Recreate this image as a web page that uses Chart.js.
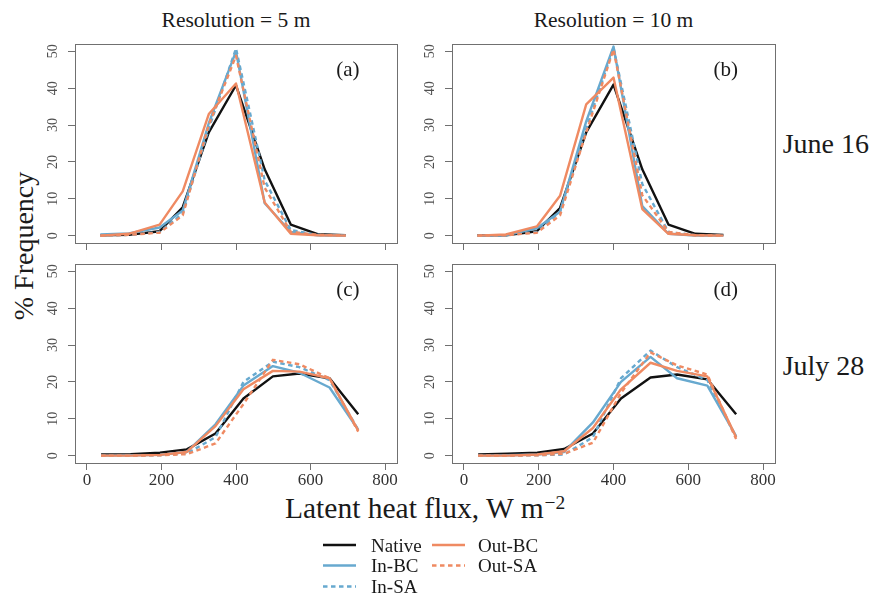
<!DOCTYPE html>
<html><head><meta charset="utf-8">
<script src="https://cdn.jsdelivr.net/npm/chart.js@4.4.1/dist/chart.umd.min.js"></script>
<style>
html,body{margin:0;padding:0;background:#fff;}
body{width:874px;height:596px;position:relative;overflow:hidden;font-family:"Liberation Serif",serif;color:#1a1a1a;}
canvas.pc{position:absolute;}
.t{position:absolute;white-space:nowrap;line-height:1;}
</style></head><body>

<div class="t" style="left:86px;width:300px;text-align:center;top:10.3px;font-size:21.5px;">Resolution = 5 m</div>
<div class="t" style="left:463.5px;width:300px;text-align:center;top:10.3px;font-size:21.5px;">Resolution = 10 m</div>
<div class="t" style="left:782.7px;top:129.9px;font-size:28px;">June 16</div>
<div class="t" style="left:782.7px;top:351.5px;font-size:28px;">July 28</div>
<div class="t" style="left:24px;top:246px;font-size:28px;transform:translate(-50%,-50%) rotate(-90deg);">% Frequency</div>
<div class="t" style="left:285px;top:493.6px;font-size:29.5px;">Latent heat flux, W m<span style="position:relative;top:-0.45em;font-size:0.66em;margin-left:1px;">−2</span></div>

<canvas class="pc" id="pa" width="372" height="219" style="left:35px;top:34px;width:372px;height:219px;"></canvas>
<canvas class="pc" id="pb" width="373" height="219" style="left:412px;top:34px;width:373px;height:219px;"></canvas>
<canvas class="pc" id="pcc" width="372" height="239" style="left:35px;top:254px;width:372px;height:239px;"></canvas>
<canvas class="pc" id="pd" width="373" height="239" style="left:412px;top:254px;width:373px;height:239px;"></canvas>

<div id="labels"></div>
<div id="legend"></div>

<script>
// ---------- data ----------
const seriesNames = ['Native', 'In-BC', 'In-SA', 'Out-BC', 'Out-SA'];
const panelTags = ['(a)', '(b)', '(c)', '(d)'];
const xTicks = [0, 200, 400, 600, 800];
const yTicks = [0, 10, 20, 30, 40, 50];

// bin centres (latent heat flux, W m-2)
const fluxJune = [36, 112, 195, 257, 327, 400, 477, 547, 619, 694];
const fluxJuly = [38, 117, 196, 268, 345, 420, 499, 570, 651, 728];

// (a) June 16, 5 m
const aNative = [0.1, 0.2, 1.2, 7.7, 28, 40.8, 18, 3, 0.4, 0.1];
const aInBC   = [0.3, 0.6, 2.2, 6.8, 30.5, 50, 8.8, 1, 0.1, 0];
const aInSA   = [0, 0.2, 1, 6, 29, 50.8, 15, 1.5, 0.2, 0];
const aOutBC  = [0, 0.5, 3, 12, 33, 41.3, 9, 0.5, 0.1, 0];
const aOutSA  = [0, 0.2, 0.8, 5.5, 30, 48.8, 13, 1, 0.2, 0];

// (b) June 16, 10 m
const bNative = [0.1, 0.1, 1.2, 7.5, 28, 41, 18, 3, 0.5, 0.2];
const bInBC   = [0, 0.1, 2, 6.5, 31, 51.3, 8, 0.5, 0, 0];
const bInSA   = [0, 0.1, 1, 6.5, 29, 51, 14, 1, 0.1, 0];
const bOutBC  = [0, 0.3, 2.5, 10.8, 35.6, 42.9, 7.2, 0.5, 0.1, 0];
const bOutSA  = [0, 0.1, 0.8, 5.5, 28, 50.5, 11, 1, 0.1, 0];

// (c) July 28, 5 m
const cNative = [0.3, 0.4, 0.8, 1.7, 6, 15.5, 21.5, 22.3, 21, 11.2];
const cInBC   = [0, 0.1, 0.2, 1, 8.5, 19, 24.3, 22.5, 18.5, 7];
const cInSA   = [0, 0, 0.1, 0.6, 5, 20, 25.5, 24, 20.5, 7];
const cOutBC  = [0, 0, 0.2, 1, 8, 18, 23, 22.8, 21, 6.8];
const cOutSA  = [0, 0, 0.1, 0.4, 3.3, 14, 26, 24.8, 21, 6.5];

// (d) July 28, 10 m
const dNative = [0.3, 0.5, 0.8, 1.8, 6, 15.5, 21.2, 22, 20.7, 11.2];
const dInBC   = [0, 0.1, 0.3, 1, 9, 20, 26.8, 21, 19, 5.3];
const dInSA   = [0, 0, 0.1, 0.3, 5, 21, 28.5, 24, 20.5, 5];
const dOutBC  = [0, 0, 0.3, 1.2, 7.5, 18, 25.2, 23, 21.5, 5];
const dOutSA  = [0, 0, 0.1, 0.5, 3.5, 17, 28, 24.5, 22, 4.5];

// ---------- styles ----------
const style = {
  colors: ['#111111', '#67a9cf', '#67a9cf', '#ef8a62', '#ef8a62'],
  dashed: [false, false, true, false, true],
  order:  [5, 4, 3, 2, 1],
  dash: [4.5, 3.5],
  lineWidth: 2.4,
  frame: '#707070'
};

const panels = [
  {canvas: 'pa',  x: fluxJune, series: [aNative, aInBC, aInSA, aOutBC, aOutSA], showX: false},
  {canvas: 'pb',  x: fluxJune, series: [bNative, bInBC, bInSA, bOutBC, bOutSA], showX: false},
  {canvas: 'pcc', x: fluxJuly, series: [cNative, cInBC, cInSA, cOutBC, cOutSA], showX: true},
  {canvas: 'pd',  x: fluxJuly, series: [dNative, dInBC, dInSA, dOutBC, dOutSA], showX: true}
];

const framePlugin = {
  id: 'frame',
  beforeDatasetsDraw(chart) {
    const {ctx, chartArea: a} = chart;
    ctx.save();
    ctx.strokeStyle = style.frame;
    ctx.lineWidth = 1;
    ctx.strokeRect(Math.round(a.left) + 0.5, Math.round(a.top) + 0.5,
                   Math.round(a.right - a.left), Math.round(a.bottom - a.top));
    ctx.restore();
  }
};

const charts = panels.map(p => {
  const datasets = p.series.map((vals, i) => ({
    label: seriesNames[i],
    data: vals.map((v, j) => ({x: p.x[j], y: v})),
    borderColor: style.colors[i],
    backgroundColor: style.colors[i],
    borderWidth: style.lineWidth,
    borderDash: style.dashed[i] ? style.dash : [],
    borderJoinStyle: 'round',
    pointRadius: 0,
    tension: 0,
    fill: false,
    order: style.order[i]
  }));
  const gridOpts = {drawOnChartArea: false, drawTicks: true, tickLength: 7, color: style.frame, lineWidth: 1};
  return new Chart(document.getElementById(p.canvas), {
    type: 'line',
    data: {datasets},
    plugins: [framePlugin],
    options: {
      responsive: false,
      animation: false,
      events: [],
      layout: {padding: {top: 10, right: 10, bottom: 0, left: 0}},
      plugins: {legend: {display: false}, tooltip: {enabled: false}},
      scales: {
        x: {
          type: 'linear', min: -32, max: 832,
          afterBuildTicks: s => { s.ticks = xTicks.map(v => ({value: v})); },
          afterFit: s => { s.height = p.showX ? 30 : 10; s.paddingLeft = 0; s.paddingRight = 0; },
          grid: gridOpts,
          border: {display: false},
          ticks: {display: p.showX, padding: 0, autoSkip: false, maxRotation: 0,
                  font: {family: 'Liberation Serif', size: 17}, color: '#333333'}
        },
        y: {
          type: 'linear', min: -2, max: 52,
          afterBuildTicks: s => { s.ticks = yTicks.map(v => ({value: v})); },
          afterFit: s => { s.width = 40; s.paddingTop = 0; s.paddingBottom = 0; },
          grid: gridOpts,
          border: {display: false},
          ticks: {padding: 8, crossAlign: 'center', minRotation: 90, maxRotation: 90, autoSkip: false,
                  font: {family: 'Liberation Serif', size: 14}, color: '#505050'}
        }
      }
    }
  });
});

// panel tags, placed from each chart's own scales
const labelsDiv = document.getElementById('labels');
charts.forEach((ch, k) => {
  const cv = ch.canvas;
  const ox = parseFloat(cv.style.left), oy = parseFloat(cv.style.top);
  const px = ox + ch.scales.x.getPixelForValue(700);
  const py = oy + ch.scales.y.getPixelForValue(44.7);
  const d = document.createElement('div');
  d.className = 't';
  d.style.fontSize = '21px';
  d.style.left = (px - 30) + 'px';
  d.style.width = '60px';
  d.style.textAlign = 'center';
  d.style.top = (py + 5.4 - 0.8375 * 21) + 'px';
  d.textContent = panelTags[k];
  labelsDiv.appendChild(d);
});

// legend (two columns, filled column-wise)
const legendPos = [
  {lx: 323, tx: 371, y: 545},
  {lx: 323, tx: 371, y: 565.5},
  {lx: 323, tx: 371, y: 586.5},
  {lx: 432, tx: 478, y: 545},
  {lx: 432, tx: 478, y: 565.5}
];
const legendDiv = document.getElementById('legend');
let svg = '<svg style="position:absolute;left:0;top:0" width="874" height="596">';
seriesNames.forEach((n, i) => {
  const p = legendPos[i];
  svg += `<line x1="${p.lx}" x2="${p.lx + 33}" y1="${p.y}" y2="${p.y}" stroke="${style.colors[i]}" stroke-width="2.4"` +
         (style.dashed[i] ? ` stroke-dasharray="${style.dash.join(' ')}"` : '') + '/>';
});
svg += '</svg>';
legendDiv.innerHTML = svg;
seriesNames.forEach((n, i) => {
  const p = legendPos[i];
  const d = document.createElement('div');
  d.className = 't';
  d.style.fontSize = '19px';
  d.style.left = p.tx + 'px';
  d.style.top = (p.y + 6.5 - 0.8375 * 19) + 'px';
  d.textContent = n;
  legendDiv.appendChild(d);
});
</script>
</body></html>
